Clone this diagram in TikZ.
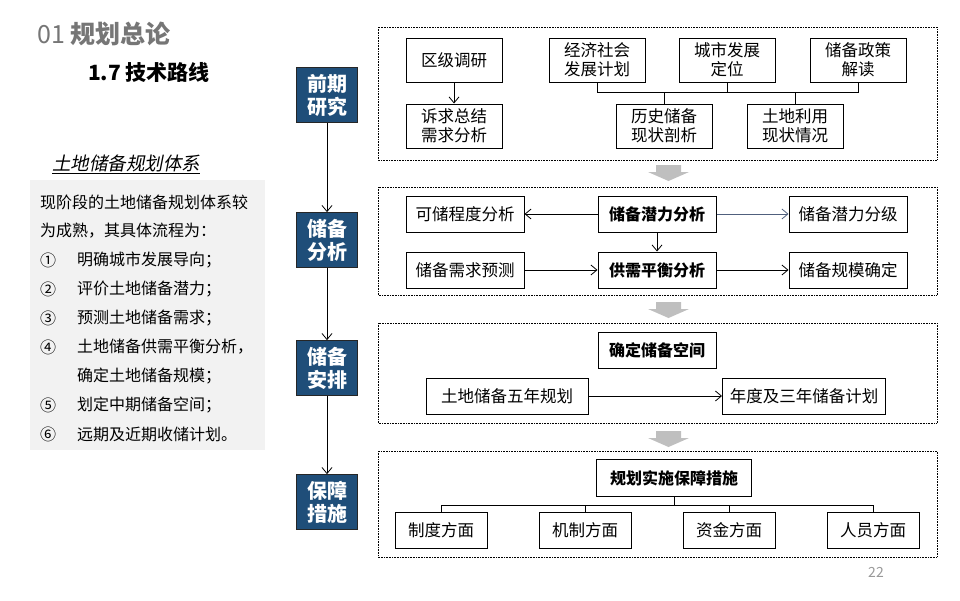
\documentclass[tikz,border=0pt]{standalone}
\usepackage{fontspec}
\setmainfont{Noto Sans CJK SC}
\newfontfamily\cjkit[FakeSlant=0.2]{Noto Sans CJK SC}
\usetikzlibrary{arrows.meta}
\definecolor{phaseblue}{RGB}{31,78,121}
\definecolor{titlegray}{RGB}{118,118,118}
\definecolor{panelgray}{RGB}{242,242,242}
\definecolor{blockgray}{RGB}{191,191,191}
\definecolor{slatearrow}{RGB}{80,96,125}
\tikzset{
  stepbox/.style={draw, line width=1pt, fill=white, align=center, inner sep=0pt,
    font=\fontsize{16.5}{19}\selectfont},
  keybox/.style={stepbox, font=\fontsize{16}{19}\selectfont\bfseries},
  phase/.style={draw=black!85, line width=0.8pt, fill=phaseblue, text=white, align=center,
    minimum width=61pt, minimum height=55pt, inner sep=0pt, font=\fontsize{20}{23}\selectfont\bfseries},
  frame/.style={draw, densely dotted, line width=0.6pt},
  flow/.style={line width=0.8pt, -{Straight Barb[length=6pt,width=10pt]}},
  plain/.style={line width=0.8pt},
  listtext/.style={anchor=west, inner sep=0pt, font=\fontsize{16}{19}\selectfont},
  blockarrow/.style={fill=blockgray, draw=none}
}
\begin{document}
\begin{tikzpicture}[x=1pt,y=-1pt]
\useasboundingbox (0,0) rectangle (960,600);

% titles
\node[anchor=west, inner sep=0pt, text=titlegray, font=\fontsize{25}{28}\selectfont] (t1) at (37,34) {01 \textbf{规划总论}};
\node[anchor=west, inner sep=0pt, font=\fontsize{21}{24}\selectfont\bfseries] (t2) at (88,72) {1.7 技术路线};

% left panel
\node[anchor=west, inner sep=0pt, font=\fontsize{18.5}{22}\selectfont\cjkit] (sys) at (52,164) {\underline{土地储备规划体系}};
\fill[panelgray] (30,180) rectangle (265,450);
\node[listtext] (l1) at (40,202) {现阶段的土地储备规划体系较};
\node[listtext] (l2) at (40,231) {为成熟，其具体流程为：};
\node[listtext] (n1) at (40,260) {①};
\node[listtext] (n2) at (40,289) {②};
\node[listtext] (n3) at (40,318) {③};
\node[listtext] (n4) at (40,347) {④};
\node[listtext] (n5) at (40,405) {⑤};
\node[listtext] (n6) at (40,434) {⑥};
\node[listtext] (s1) at (77,260) {明确城市发展导向；};
\node[listtext] (s2) at (77,289) {评价土地储备潜力；};
\node[listtext] (s3) at (77,318) {预测土地储备需求；};
\node[listtext] (s4) at (77,347) {土地储备供需平衡分析，};
\node[listtext] (s4b) at (77,376) {确定土地储备规模；};
\node[listtext] (s5) at (77,405) {划定中期储备空间；};
\node[listtext] (s6) at (77,434) {远期及近期收储计划。};

% phase boxes
\node[phase] (p1) at (327,95) {前期\\研究};
\node[phase] (p2) at (327,240) {储备\\分析};
\node[phase] (p3) at (327,368) {储备\\安排};
\node[phase] (p4) at (327,502) {保障\\措施};
\draw[flow] (p1) -- (p2);
\draw[flow] (p2) -- (p3);
\draw[flow] (p3) -- (p4);

% frames
\draw[frame] (378,27) rectangle (937,160);
\draw[frame] (378,187) rectangle (937,295);
\draw[frame] (378,323) rectangle (937,423);
\draw[frame] (378,451) rectangle (937,557);

% gray block arrows
\foreach \yy in {165,302,431}{
  \fill[blockgray] (656,\yy) -- (681,\yy) -- (681,\yy+7) -- (689,\yy+7) -- (668.5,\yy+16) -- (648,\yy+7) -- (656,\yy+7) -- cycle;
}

% frame 1
\node[stepbox, minimum width=96pt, minimum height=44pt] (qj) at (454,60) {区级调研};
\node[stepbox, minimum width=96pt, minimum height=44pt] (sq) at (454,126) {诉求总结\\需求分析};
\node[stepbox, minimum width=96pt, minimum height=44pt] (jj) at (597,60) {经济社会\\发展计划};
\node[stepbox, minimum width=96pt, minimum height=44pt] (cs) at (727,60) {城市发展\\定位};
\node[stepbox, minimum width=96pt, minimum height=44pt] (zc) at (858,60) {储备政策\\解读};
\node[stepbox, minimum width=96pt, minimum height=44pt] (ls) at (664,126) {历史储备\\现状剖析};
\node[stepbox, minimum width=96pt, minimum height=44pt] (td) at (795,126) {土地利用\\现状情况};
\draw[flow] (qj) -- (sq);
\coordinate (bus1) at (0,92);
\draw[plain] (jj.south) |- (zc.south |- bus1) -- (zc.south);
\draw[plain] (cs.south) -- (cs.south |- bus1);
\draw[plain] (ls.north) -- (ls.north |- bus1);
\draw[plain] (td.north) -- (td.north |- bus1);

% frame 2
\node[stepbox, minimum width=118pt, minimum height=36pt] (kc) at (465,214) {可储程度分析};
\node[keybox, minimum width=118pt, minimum height=36pt] (qf) at (657,214) {储备潜力分析};
\node[stepbox, minimum width=118pt, minimum height=36pt] (fj) at (848,214) {储备潜力分级};
\node[stepbox, minimum width=118pt, minimum height=36pt] (xq) at (465,270) {储备需求预测};
\node[keybox, minimum width=118pt, minimum height=36pt] (gx) at (657,270) {供需平衡分析};
\node[stepbox, minimum width=118pt, minimum height=36pt] (gm) at (848,270) {储备规模确定};
\draw[flow] (qf) -- (kc);
\draw[flow, draw=slatearrow] (qf) -- (fj);
\draw[flow] (qf) -- (gx);
\draw[flow] (xq) -- (gx);
\draw[flow] (gx) -- (gm);

% frame 3
\node[keybox, minimum width=118pt, minimum height=36pt] (kj) at (657,350) {确定储备空间};
\node[stepbox, minimum width=162pt, minimum height=36pt] (wn) at (507,396) {土地储备五年规划};
\node[stepbox, minimum width=163pt, minimum height=36pt] (nd) at (804,396) {年度及三年储备计划};
\draw[flow] (wn) -- (nd);

% frame 4
\node[keybox, minimum width=155pt, minimum height=37pt] (bz) at (674,478) {规划实施保障措施};
\node[stepbox, minimum width=92pt, minimum height=36pt] (zd) at (441,530) {制度方面};
\node[stepbox, minimum width=92pt, minimum height=36pt] (jz) at (585,530) {机制方面};
\node[stepbox, minimum width=92pt, minimum height=36pt] (zj) at (729,530) {资金方面};
\node[stepbox, minimum width=92pt, minimum height=36pt] (ry) at (873,530) {人员方面};
\coordinate (bus4) at (0,505);
\draw[plain] (bz.south) -- (bz.south |- bus4);
\draw[plain] (zd.north) |- (ry.north |- bus4) -- (ry.north);
\draw[plain] (jz.north) -- (jz.north |- bus4);
\draw[plain] (zj.north) -- (zj.north |- bus4);

% page number
\node[inner sep=0pt, text=blockgray!80!black, font=\fontsize{14}{16}\selectfont] (pg) at (876,572) {22};
\end{tikzpicture}
\end{document}
